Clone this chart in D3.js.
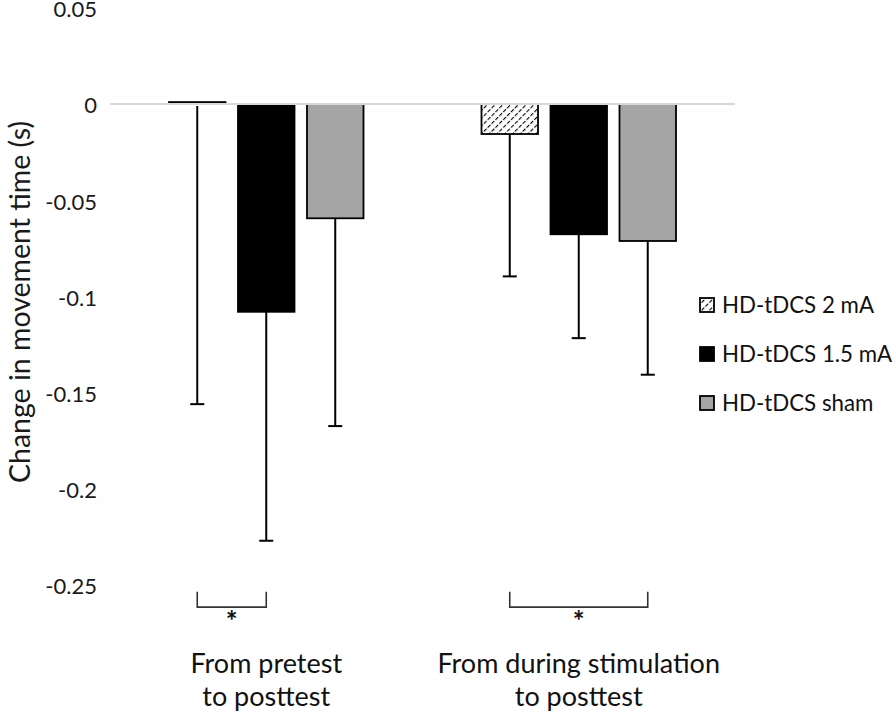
<!DOCTYPE html>
<html>
<head>
<meta charset="utf-8">
<script src="https://cdn.jsdelivr.net/npm/d3@7/dist/d3.min.js"></script>
<style>
  html, body { margin: 0; padding: 0; background: #fff; }
  svg { display: block; font-family: Lato, "Open Sans", sans-serif; }
</style>
</head>
<body>
<svg id="chart" width="896" height="715"></svg>
<script>
// ---- data ----
const categories = [["From pretest", "to posttest"], ["From during stimulation", "to posttest"]];
const categoryKeys = ["pre", "during"];
const series = ["HD-tDCS 2 mA", "HD-tDCS 1.5 mA", "HD-tDCS sham"];
const meansPre = [0.001, -0.108, -0.0594];
const meansDuring = [-0.0156, -0.0677, -0.0712];
const errPre = [0.157, 0.119, 0.108];
const errDuring = [0.074, 0.054, 0.0695];
const tickValues = [0.05, 0, -0.05, -0.1, -0.15, -0.2, -0.25];
const tickLabels = ["0.05", "0", "-0.05", "-0.1", "-0.15", "-0.2", "-0.25"];
const significance = [
  { cat: "pre", from: "HD-tDCS 2 mA", to: "HD-tDCS 1.5 mA", label: "*" },
  { cat: "during", from: "HD-tDCS 2 mA", to: "HD-tDCS sham", label: "*" }
];
const yTitle = "Change in movement time (s)";

// ---- layout ----
const svg = d3.select("#chart");
const plotLeft = 110, plotRight = 735, plotTop = 7.8, plotBottom = 585;

const y = d3.scaleLinear().domain([-0.25, 0.05]).range([plotBottom, plotTop]);
const x0 = d3.scaleBand().domain(categoryKeys).range([plotLeft, plotRight]).padding(0);
const x1 = d3.scaleBand().domain(series).range([0, x0.bandwidth()])
  .paddingInner(0.181).paddingOuter(0.855);

const fills = { "HD-tDCS 2 mA": "url(#hatch)", "HD-tDCS 1.5 mA": "#000000", "HD-tDCS sham": "#a5a5a5" };

// hatch pattern
const defs = svg.append("defs");
const pat = defs.append("pattern").attr("id", "hatch")
  .attr("patternUnits", "userSpaceOnUse").attr("width", 5.5).attr("height", 5.5)
  .attr("patternTransform", "rotate(45)");
pat.append("rect").attr("width", 5.5).attr("height", 5.5).attr("fill", "#fff");
pat.append("line").attr("x1", 0).attr("y1", 0).attr("x2", 0).attr("y2", 5.5)
  .attr("stroke", "#000").attr("stroke-width", 2.2).attr("stroke-dasharray", "4 1.5");

const rows = [];
categoryKeys.forEach((c, ci) => {
  const m = ci === 0 ? meansPre : meansDuring;
  const e = ci === 0 ? errPre : errDuring;
  series.forEach((s, si) => rows.push({ cat: c, series: s, value: m[si], err: e[si] }));
});

// y axis (labels only)
const yAxis = d3.axisLeft(y).tickValues(tickValues)
  .tickFormat((d, i) => tickLabels[i]).tickSize(0).tickPadding(13);
const gy = svg.append("g").attr("transform", `translate(${plotLeft},0)`).call(yAxis);
gy.select(".domain").remove();
gy.selectAll("text").attr("font-size", 22).attr("fill", "#1a1a1a").attr("dy", "0.4em")
  .attr("font-family", "Lato, sans-serif");

// y title
svg.append("text")
  .attr("transform", `translate(30,302) rotate(-90)`)
  .attr("text-anchor", "middle")
  .attr("font-size", 28.5).attr("fill", "#1a1a1a")
  .text(yTitle);

// bars
const bars = svg.append("g");
bars.selectAll("rect").data(rows).enter().append("rect")
  .attr("x", d => x0(d.cat) + x1(d.series))
  .attr("width", x1.bandwidth())
  .attr("y", d => y(Math.max(0, d.value)))
  .attr("height", d => Math.abs(y(d.value) - y(0)))
  .attr("fill", d => fills[d.series])
  .attr("stroke", "#000").attr("stroke-width", 1.8);

// zero line
svg.append("line")
  .attr("x1", plotLeft).attr("x2", plotRight)
  .attr("y1", y(0)).attr("y2", y(0))
  .attr("stroke", "#d9d9d9").attr("stroke-width", 2);

// error bars (downward only)
const eb = svg.append("g").attr("stroke", "#000").attr("stroke-width", 2);
rows.forEach(d => {
  const cx = x0(d.cat) + x1(d.series) + x1.bandwidth() / 2;
  const yStart = d.value > 0 ? y(0) + 2 : y(d.value);
  eb.append("line").attr("x1", cx).attr("x2", cx)
    .attr("y1", yStart).attr("y2", y(d.value - d.err));
  eb.append("line").attr("x1", cx - 7).attr("x2", cx + 7)
    .attr("y1", y(d.value - d.err)).attr("y2", y(d.value - d.err));
});

// significance brackets
const sigTop = -0.2535, sigBottom = -0.2615;
const sg = svg.append("g");
significance.forEach(s => {
  const xa = x0(s.cat) + x1(s.from) + x1.bandwidth() / 2;
  const xb = x0(s.cat) + x1(s.to) + x1.bandwidth() / 2;
  sg.append("path")
    .attr("d", `M${xa},${y(sigTop)}V${y(sigBottom)}H${xb}V${y(sigTop)}`)
    .attr("fill", "none").attr("stroke", "#333").attr("stroke-width", 1.6);
  sg.append("text").attr("x", (xa + xb) / 2).attr("y", y(sigBottom) + 24)
    .attr("text-anchor", "middle").attr("font-size", 28).attr("font-weight", "bold")
    .attr("fill", "#111")
    .text(s.label);
});

// category labels
categoryKeys.forEach((c, ci) => {
  const cx = x0(c) + x0.bandwidth() / 2;
  categories[ci].forEach((line, li) => {
    svg.append("text").attr("x", cx).attr("y", 673 + li * 33)
      .attr("text-anchor", "middle").attr("font-size", 27).attr("fill", "#111")
      .text(line);
  });
});

// legend
const lg = svg.append("g");
series.forEach((s, i) => {
  const cy = 305 + i * 49;
  lg.append("rect").attr("x", 700).attr("y", cy - 7).attr("width", 14).attr("height", 14)
    .attr("fill", fills[s]).attr("stroke", "#000").attr("stroke-width", 1.8);
  lg.append("text").attr("x", 722).attr("y", cy).attr("dy", "0.35em")
    .attr("font-size", 22.3).attr("fill", "#111").text(s);
});
</script>
</body>
</html>
